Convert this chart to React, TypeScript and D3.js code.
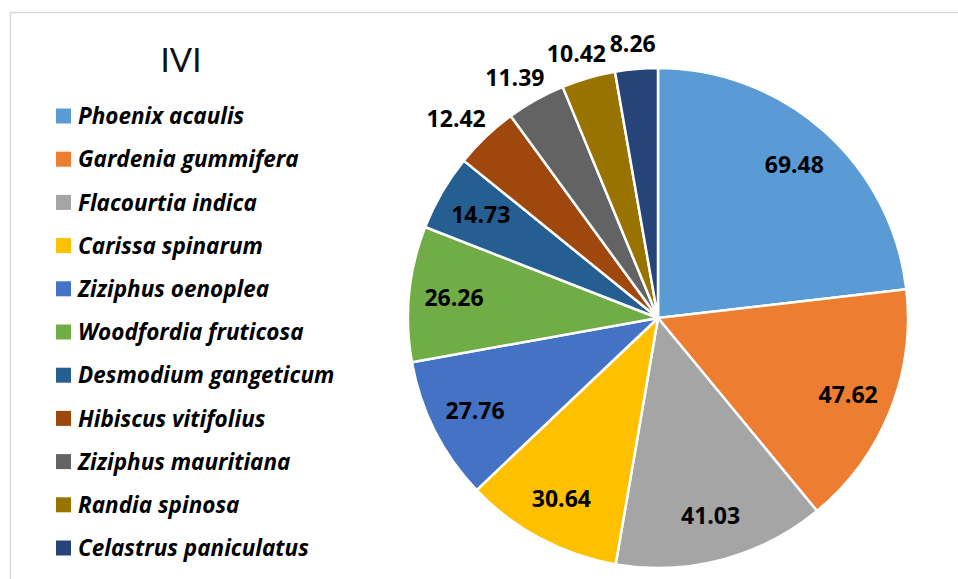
import React from 'react';
import * as d3 from 'd3';

const width = 958;
const height = 579;

const species = [
  'Phoenix acaulis',
  'Gardenia gummifera',
  'Flacourtia indica',
  'Carissa spinarum',
  'Ziziphus oenoplea',
  'Woodfordia fruticosa',
  'Desmodium gangeticum',
  'Hibiscus vitifolius',
  'Ziziphus mauritiana',
  'Randia spinosa',
  'Celastrus paniculatus'
];
const ivi = [69.48, 47.62, 41.03, 30.64, 27.76, 26.26, 14.73, 12.42, 11.39, 10.42, 8.26];
const colors = [
  '#5B9BD5', '#ED7D31', '#A5A5A5', '#FFC000', '#4472C4', '#70AD47',
  '#255E91', '#9E480E', '#636363', '#997300', '#264478'
];

const cx = 658;
const cy = 318;
const radius = 250;
const font = '"Open Sans", Lato, sans-serif';

const App = () => {
  const rows = species.map((name, i) => ({ name, value: ivi[i], color: colors[i] }));
  const pie = d3.pie<any>().sort(null).value(d => d.value);
  const arcs = pie(rows);
  const arcGen = d3.arc<any>().innerRadius(0).outerRadius(radius);
  const color = d3.scaleOrdinal<string, string>().domain(species).range(colors);
  const legendY = d3.scalePoint<string>().domain(species).range([116, 548]);

  return (
    <svg width={width} height={height} style={{ position: 'absolute', left: 0, top: 0 }}>
      <rect x={0} y={0} width={width} height={height} fill="#fff" />
      <path d={`M10.5,${height}V12.5H${width}`} fill="none" stroke="#d9d9d9" strokeWidth={1.5} />
      <text x={181} y={72} textAnchor="middle" style={{ fontFamily: 'Lato, sans-serif', fontSize: '33px' }} fill="#111">
        IVI
      </text>
      <g transform={`translate(${cx},${cy})`}>
        {arcs.map((a, i) => (
          <path key={i} d={arcGen(a) as string} fill={color(a.data.name)} stroke="#fff" strokeWidth={2.5} strokeLinejoin="round" />
        ))}
        {arcs.map((a, i) => {
          const mid = (a.startAngle + a.endAngle) / 2;
          const s = Math.sin(mid);
          const c = Math.cos(mid);
          const inside = a.data.value > 14;
          let x: number, y: number;
          if (inside) {
            x = s * radius * 0.82;
            y = -c * radius * 0.82;
          } else {
            const r = radius + 14;
            x = s * r + s * 29;
            y = -c * r - c * 11;
          }
          return (
            <text
              key={'l' + i}
              x={x}
              y={y}
              dy="0.36em"
              textAnchor="middle"
              fill="#000"
              style={{ fontFamily: font, fontSize: '23px', fontWeight: 'bold' }}
            >
              {a.data.value.toFixed(2)}
            </text>
          );
        })}
      </g>
      <g>
        {rows.map(d => (
          <g key={d.name} transform={`translate(56,${legendY(d.name)})`}>
            <rect x={0} y={-7.5} width={15} height={15} fill={d.color} />
            <text
              x={22}
              y={0}
              dy="0.36em"
              fill="#000"
              style={{ fontFamily: font, fontSize: '22.5px', fontWeight: 'bold', fontStyle: 'italic' }}
            >
              {d.name}
            </text>
          </g>
        ))}
      </g>
    </svg>
  );
};

export default App;
